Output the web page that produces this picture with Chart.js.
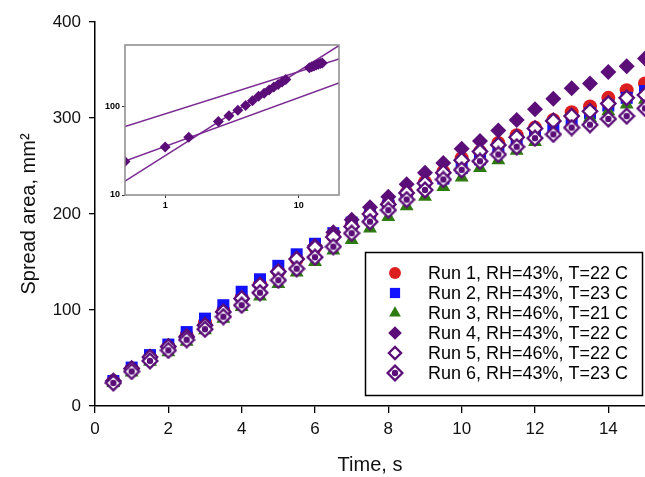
<!DOCTYPE html>
<html><head><meta charset="utf-8">
<script src="https://cdn.jsdelivr.net/npm/chart.js@4.4.1/dist/chart.umd.min.js"></script>
<style>
html,body{margin:0;padding:0;background:#fff;}
#wrap{position:relative;width:645px;height:477px;overflow:hidden;}
#main{position:absolute;left:0;top:0;}
#inset{position:absolute;left:100px;top:40px;}
</style></head><body>
<div id="wrap"><canvas id="main" width="645" height="477"></canvas><canvas id="inset" width="250" height="175"></canvas></div>
<script>
// ---- data ----
const time = [0.5,1,1.5,2,2.5,3,3.5,4,4.5,5,5.5,6,6.5,7,7.5,8,8.5,9,9.5,10,10.5,11,11.5,12,12.5,13,13.5,14,14.5,15];
const run1 = [26,39,51,62,74,87,100,113,127,140,153,165,177,188,200,211,222,233,244,258,265,274,282,290,298,306,312,321,329,336];
const run2 = [26,40,53,64,77,91,105,119,132,146,158,169,180,191,200,209,219,228,237,248,257,266,274,283,291,298,305,313,321,328];
const run3 = [24,35,46,56,67,79,91,103,114,127,139,150,162,173,185,197,208,218,228,238,248,256,266,275,285,292,300,307,314,319];
const run4 = [25,38,50,61,73,85,98,111,125,139,153,167,181,194,207,218,231,243,253,268,276,287,298,309,320,331,336,348,354,362];
const run5 = [26,39,51,62,72,84,98,112,126,140,153,165,176,187,200,210,222,232,243,256,265,272,280,289,297,302,307,315,321,324];
const run6 = [24,36,47,58,69,80,93,105,118,131,143,155,166,180,192,204,215,225,236,246,255,262,270,279,283,290,293,299,302,310];
const runLabels = ['Run 1, RH=43%, T=22 C','Run 2, RH=43%, T=23 C','Run 3, RH=46%, T=21 C','Run 4, RH=43%, T=22 C','Run 5, RH=46%, T=22 C','Run 6, RH=43%, T=23 C'];
const xTicks = [0,2,4,6,8,10,12,14];
const yTicks = [0,100,200,300,400];

// inset (log-log)
const insetT = [0.5,1,1.5,2.5,3,3.5,4,4.5,5,5.5,6,6.5,7,7.5,8,12,12.5,13,13.5,14,14.5,15];
const insetArea = [24,35,45,68,79,91,103,117,131,142,155,167,178,190,203,276,283,290,296,302,308,313];
const fitX = [0.5,20];
const fit1 = [24.3,186];
const fit2 = [14.4,493];
const fit3 = [59.8,348];
const insetXTicks = [1,10];
const insetYTicks = [10,100];

// ---- styling ----
const FONT = "'Liberation Sans', Arial, Helvetica, sans-serif";
const PURPLE = '#5b0e78';
const LINEPURPLE = '#7a2b92';

function run6Marker(){
  const c=document.createElement('canvas'); c.width=18; c.height=18;
  const g=c.getContext('2d');
  g.beginPath(); g.moveTo(9,1.6); g.lineTo(16.4,9); g.lineTo(9,16.4); g.lineTo(1.6,9); g.closePath();
  g.fillStyle='#fff'; g.fill(); g.lineWidth=2.3; g.strokeStyle=PURPLE; g.stroke();
  g.beginPath(); g.arc(9,9,3.2,0,Math.PI*2); g.fillStyle=PURPLE; g.fill();
  return c;
}
const m6 = run6Marker();

const styles = [
  {ps:'circle', r:7, bg:'#dc1e1e', bc:'#dc1e1e', bw:0},
  {ps:'rect', r:8.5, bg:'#1212ff', bc:'#1212ff', bw:0},
  {ps:'triangle', r:8, bg:'#2c7a10', bc:'#2c7a10', bw:0},
  {ps:'rectRot', r:8, bg:PURPLE, bc:PURPLE, bw:0},
  {ps:'rectRot', r:7.2, bg:'#ffffff', bc:PURPLE, bw:2.3},
  {ps:m6, r:8, bg:PURPLE, bc:PURPLE, bw:0}
];
const runs = [run1,run2,run3,run4,run5,run6];

const datasets = runs.map((arr,i)=>({
  label: runLabels[i],
  data: time.map((t,j)=>({x:t,y:arr[j]})),
  showLine:false,
  pointStyle: styles[i].ps,
  pointRadius: styles[i].r,
  pointHoverRadius: styles[i].r,
  pointBackgroundColor: styles[i].bg,
  pointBorderColor: styles[i].bc,
  pointBorderWidth: styles[i].bw,
  order: 6-i,
  clip: false
}));

function drawMarker(ctx, st, x, y){
  ctx.save();
  ctx.fillStyle=st.bg; ctx.strokeStyle=st.bc; ctx.lineWidth=st.bw;
  const r=st.r;
  if (typeof st.ps !== 'string'){ ctx.drawImage(st.ps, x-st.ps.width/2, y-st.ps.height/2); ctx.restore(); return; }
  ctx.beginPath();
  if (st.ps==='circle'){ ctx.arc(x,y,r,0,Math.PI*2); }
  else if (st.ps==='rect'){ const s=Math.SQRT1_2*r; ctx.rect(x-s,y-s,2*s,2*s); }
  else if (st.ps==='triangle'){ ctx.moveTo(x, y-r); ctx.lineTo(x+r*0.866, y+r*0.5); ctx.lineTo(x-r*0.866, y+r*0.5); ctx.closePath(); }
  else if (st.ps==='rectRot'){ ctx.moveTo(x-r,y); ctx.lineTo(x,y-r); ctx.lineTo(x+r,y); ctx.lineTo(x,y+r); ctx.closePath(); }
  ctx.fill(); if (st.bw>0) ctx.stroke();
  ctx.restore();
}

const boxLegend = {
  id:'boxLegend',
  afterDraw(chart){
    const ctx=chart.ctx;
    ctx.save();
    ctx.fillStyle='#fff'; ctx.fillRect(366,253,276,142);
    ctx.lineWidth=1.5; ctx.strokeStyle='#000'; ctx.strokeRect(365.5,252.5,277,143);
    ctx.font='18px '+FONT; ctx.fillStyle='#000'; ctx.textBaseline='middle'; ctx.textAlign='left';
    runLabels.forEach((lab,i)=>{
      const y=273+20*i;
      const st=Object.assign({}, styles[i]);
      st.r = st.r*0.85;
      drawMarker(ctx, st, 395, y);
      ctx.fillStyle='#000';
      ctx.fillText(lab, 428, y+1);
    });
    ctx.restore();
  }
};

new Chart(document.getElementById('main'), {
  type:'scatter',
  data:{datasets},
  options:{
    responsive:false, animation:false, devicePixelRatio:1,
    layout:{autoPadding:false, padding:{left:0,top:22,right:0,bottom:0}},
    plugins:{legend:{display:false}, tooltip:{enabled:false}},
    scales:{
      x:{type:'linear', min:0, max:15,
        afterBuildTicks:s=>{s.ticks=xTicks.map(v=>({value:v}));},
        afterFit:s=>{s.height=71; s.paddingRight=0; s.paddingLeft=0;},
        ticks:{font:{family:FONT,size:17}, color:'#111', padding:6, maxRotation:0, autoSkip:false},
        grid:{display:true, drawOnChartArea:false, drawTicks:true, tickLength:7, color:'#000', lineWidth:1.3},
        border:{display:true, color:'#000', width:1.5},
        title:{display:true, text:'Time, s', font:{family:FONT,size:20,lineHeight:1}, color:'#111', padding:{top:0,bottom:2}}
      },
      y:{type:'linear', min:0, max:400,
        afterBuildTicks:s=>{s.ticks=yTicks.map(v=>({value:v}));},
        afterFit:s=>{s.width=95; s.paddingTop=0; s.paddingBottom=0;},
        ticks:{font:{family:FONT,size:17}, color:'#111', padding:8},
        grid:{display:true, drawOnChartArea:false, drawTicks:true, tickLength:6, color:'#000', lineWidth:1.3},
        border:{display:true, color:'#000', width:1.5},
        title:{display:true, text:'Spread area, mm²', font:{family:FONT,size:20,lineHeight:1}, color:'#111', padding:{top:19,bottom:0}}
      }
    }
  },
  plugins:[boxLegend]
});

const insetBox = {
  id:'insetBox',
  afterDatasetsDraw(chart){
    const a=chart.chartArea, ctx=chart.ctx;
    ctx.save(); ctx.lineWidth=1.5; ctx.strokeStyle='#8a8a8a';
    ctx.strokeRect(a.left, a.top, a.right-a.left, a.bottom-a.top);
    ctx.restore();
  }
};

const lineDs = (ys)=>({data:fitX.map((x,i)=>({x, y:ys[i]})), showLine:true, borderColor:LINEPURPLE, borderWidth:1.5, pointRadius:0, fill:false});

new Chart(document.getElementById('inset'), {
  type:'scatter',
  data:{datasets:[
    {data: insetT.map((t,i)=>({x:t,y:insetArea[i]})), showLine:false, pointStyle:'rectRot', pointRadius:5.5, pointBackgroundColor:PURPLE, pointBorderWidth:0, order:0},
    lineDs(fit1), lineDs(fit2), lineDs(fit3)
  ]},
  options:{
    responsive:false, animation:false, devicePixelRatio:1,
    layout:{autoPadding:false, padding:{left:0,top:5,right:11,bottom:0}},
    plugins:{legend:{display:false}, tooltip:{enabled:false}},
    scales:{
      x:{type:'logarithmic', min:0.5, max:20,
        afterBuildTicks:s=>{s.ticks=insetXTicks.map(v=>({value:v}));},
        afterFit:s=>{s.height=20; s.paddingRight=0; s.paddingLeft=0;},
        ticks:{font:{family:FONT,size:9,weight:'bold'}, color:'#000', padding:2, autoSkip:false, maxRotation:0, callback:v=>String(v)},
        grid:{display:true, drawOnChartArea:false, tickLength:3, color:'#333'},
        border:{display:false}
      },
      y:{type:'logarithmic', min:10, max:500,
        afterBuildTicks:s=>{s.ticks=insetYTicks.map(v=>({value:v}));},
        afterFit:s=>{s.width=25; s.paddingTop=0; s.paddingBottom=0;},
        ticks:{font:{family:FONT,size:9,weight:'bold'}, color:'#000', padding:2, autoSkip:false, callback:v=>String(v)},
        grid:{display:true, drawOnChartArea:false, tickLength:3, color:'#333'},
        border:{display:false}
      }
    }
  },
  plugins:[insetBox]
});
</script>
</body></html>
